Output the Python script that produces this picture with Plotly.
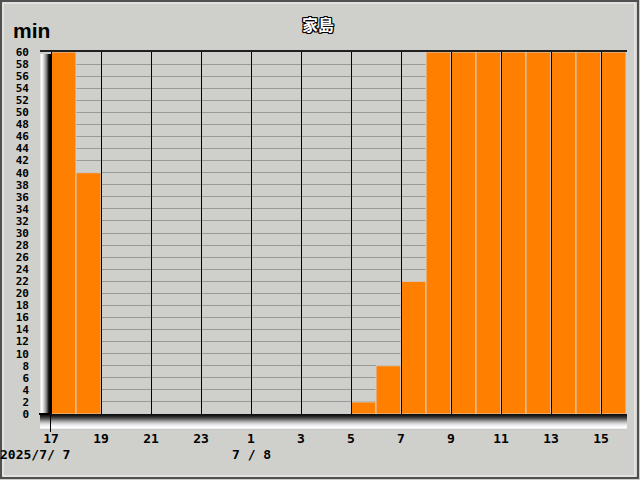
import plotly.graph_objects as go
import numpy as np

# ---- data ----
hours = [17, 18, 19, 20, 21, 22, 23, 0, 1, 2, 3, 4, 5, 6, 7, 8, 9, 10, 11, 12, 13, 14, 15]
minutes = [60, 40, 0, 0, 0, 0, 0, 0, 0, 0, 0, 0, 2, 8, 22, 60, 60, 60, 60, 60, 60, 60, 60]
y_ticks = list(range(0, 61, 2))
date_labels = ["2025/7/ 7", "7 / 8"]
date_label_hours = [17, 1]
title_text = "家島"
y_unit = "min"

W, H = 640, 480
L, R, T, B = 51, 14, 52, 66
PW, PH = W - L - R, H - T - B

def px(x):
    return (x - L) / PW

def py(y):
    return (H - B - y) / PH

BG = "#cfd0cc"
mono = "DejaVu Sans Mono"

xpos = np.arange(len(hours)) + 0.5
tickvals = list(range(0, len(hours), 2))
ticktext = [str(hours[i]) for i in tickvals]
half_px = 0.5 * len(hours) / PW  # half a pixel in x-data units, for crisp 1px lines

fig = go.Figure()
fig.add_trace(go.Bar(
    x=xpos, y=minutes, width=1,
    marker=dict(color="#ff8000", line=dict(color="#d0d0d0", width=1)),
    hoverinfo="skip",
))

shapes = []
# vertical black lines at labelled hours
for tv in tickvals + [len(hours)]:
    shapes.append(dict(type="line", xref="x", yref="paper", x0=tv + half_px, x1=tv + half_px, y0=0, y1=1,
                       line=dict(color="black", width=1), layer="above"))
# top edge dark line
shapes.append(dict(type="line", xref="paper", yref="paper", x0=px(40), x1=px(627), y0=py(51), y1=py(51),
                   line=dict(color="#202020", width=2), layer="above"))
# left bevel gradient
left_cols = ["#e8e8e8", "#fafafa", "#f0f0f0", "#d8d8d8", "#bcbcbc", "#a0a0a0", "#7c7c7c", "#505050", "#202020", "#080808", "#000000"]
for i, c in enumerate(left_cols):
    shapes.append(dict(type="rect", xref="paper", yref="paper", x0=px(40 + i), x1=px(41 + i),
                       y0=py(414), y1=py(54), fillcolor=c, line=dict(width=0), layer="above"))
# bottom bevel gradient
bot_cols = ["#101010", "#181818", "#282828", "#3c3c3c", "#545454", "#707070", "#8c8c8c", "#a8a8a8",
            "#c0c0c0", "#d4d4d4", "#e4e4e4", "#f0f0f0", "#f8f8f8", "#ffffff", "#f0f0f0", "#c8c8c8"]
for i, c in enumerate(bot_cols):
    shapes.append(dict(type="rect", xref="paper", yref="paper", x0=px(40), x1=px(627),
                       y0=py(415 + i), y1=py(414 + i), fillcolor=c, line=dict(width=0), layer="above"))
# axis corner lines
shapes.append(dict(type="line", xref="paper", yref="paper", x0=px(50.5), x1=px(50.5), y0=py(432), y1=py(414),
                   line=dict(color="black", width=1), layer="above"))
shapes.append(dict(type="line", xref="paper", yref="paper", x0=px(39), x1=px(51), y0=py(414), y1=py(414),
                   line=dict(color="black", width=2), layer="above"))
# outer frame
shapes.append(dict(type="rect", xref="paper", yref="paper", x0=px(1), x1=px(638), y0=py(478), y1=py(1),
                   line=dict(color="#505050", width=2), fillcolor="rgba(0,0,0,0)", layer="below"))
shapes.append(dict(type="rect", xref="paper", yref="paper", x0=px(3), x1=px(635), y0=py(476), y1=py(3),
                   line=dict(color="#f4f4f4", width=1), fillcolor="rgba(0,0,0,0)", layer="below"))

annotations = []
for lab, hr, xs in zip(date_labels, date_label_hours, [-16, 0]):
    idx = hours.index(hr)
    annotations.append(dict(x=idx, y=py(454), xref="x", yref="paper", text=lab, showarrow=False,
                            xshift=xs,
                            font=dict(family=mono, size=13, color="black", weight="bold"),
                            xanchor="center", yanchor="middle"))
annotations.append(dict(x=px(11), y=py(30), xref="paper", yref="paper", text=y_unit, showarrow=False,
                        font=dict(family="Liberation Sans", size=21, color="black", weight="bold"),
                        xanchor="left", yanchor="middle"))

fig.update_layout(
    width=W, height=H,
    margin=dict(l=L, r=R, t=T, b=B, autoexpand=False),
    paper_bgcolor=BG, plot_bgcolor=BG,
    showlegend=False, bargap=0,
    title=dict(text=title_text, x=318 / W, y=1 - 25 / H, xanchor="center", yanchor="middle",
               automargin=False,
               font=dict(family="Noto Sans CJK JP", size=16, color="white", weight="bold",
                         shadow="1px 1px 0 #000, -1px -1px 0 #000, 1px -1px 0 #000, -1px 1px 0 #000, 0 1px 0 #000, 0 -1px 0 #000, 1px 0 0 #000, -1px 0 0 #000")),
    xaxis=dict(range=[0, len(hours)], tickvals=tickvals, ticktext=ticktext, showgrid=False,
               zeroline=False, showline=False, ticks="", ticklabelstandoff=15, automargin=False,
               tickfont=dict(family=mono, size=13, color="black", weight="bold"), fixedrange=True),
    yaxis=dict(range=[0, 60], tickvals=y_ticks, showgrid=True, gridcolor="#999999", gridwidth=1,
               zeroline=False, showline=False, ticks="", ticklabelstandoff=21, automargin=False,
               tickfont=dict(family=mono, size=11, color="black", weight="bold"), fixedrange=True),
    shapes=shapes, annotations=annotations,
)

fig.write_html("out.html", config={"displayModeBar": False, "staticPlot": True},
               post_script="document.body.style.margin='0';document.body.style.overflow='hidden';")
